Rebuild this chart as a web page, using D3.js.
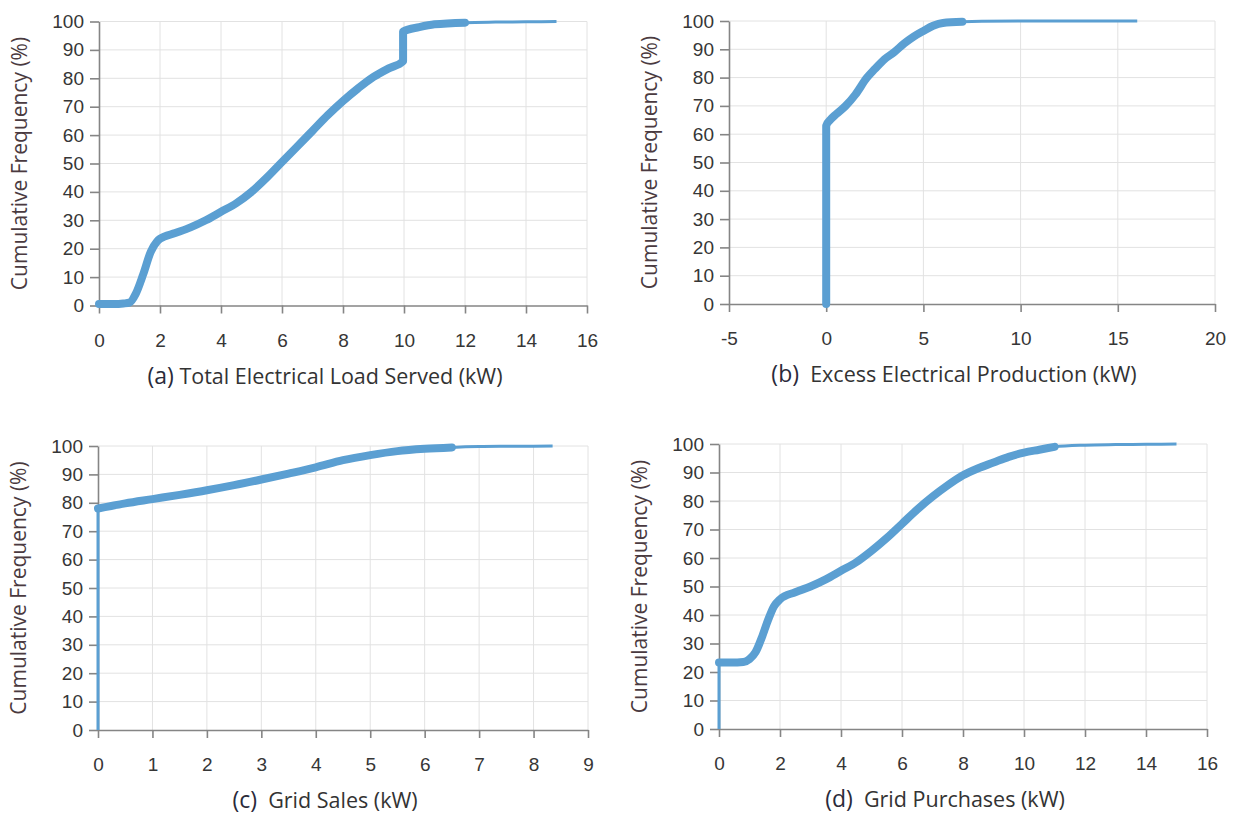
<!DOCTYPE html>
<html>
<head>
<meta charset="utf-8">
<script src="https://cdn.jsdelivr.net/npm/d3@7"></script>
<style>
  body { margin: 0; background: #fff; }
  svg { display: block; font-family: "Open Sans", "Noto Sans", sans-serif; }
  .grid line { stroke: #e2e2e2; stroke-width: 1; }
  .axis path, .axis line { stroke: #858585; stroke-width: 1.6; }
  .axis text { fill: #363636; font-size: 19px; }
</style>
</head>
<body>
<svg id="chart" width="1235" height="816"></svg>
<script>
// cumulative frequency curves (kW, %)
const loadX = [0, 0.5, 0.8, 1.0, 1.2, 1.45, 1.7, 1.9, 2.0, 2.5, 3.0, 3.5, 4.0, 4.5, 5.0, 5.5, 6.0, 6.5, 7.0, 7.5, 8.0, 8.5, 9.0, 9.5, 9.97, 9.97, 10.5, 11.0, 12.0, 13.0, 14.0, 15.0];
const loadY = [0.5, 0.5, 0.7, 1.0, 4, 11, 19, 22.5, 23.5, 25.5, 27.5, 30, 33, 36, 40, 45, 50.5, 56, 61.5, 67, 72, 76.5, 80.5, 83.5, 86, 96.5, 98, 99, 99.6, 99.8, 99.9, 100];

const excessX = [0, 0, 0.2, 0.5, 1.0, 1.5, 2.1, 2.5, 3.0, 3.5, 4.0, 4.5, 5.0, 5.5, 6.0, 7.0, 8.0, 10, 12, 14, 16];
const excessY = [0, 63, 65, 67, 70, 74, 80, 83, 86.5, 89, 92, 94.5, 96.5, 98.3, 99.3, 99.7, 99.9, 100, 100, 100, 100];

const salesX = [0, 0, 0.5, 1, 1.5, 2, 2.5, 3, 3.5, 4, 4.5, 5, 5.5, 6, 6.5, 7, 7.5, 8, 8.35];
const salesY = [0, 78, 79.8, 81.3, 82.8, 84.4, 86.2, 88.2, 90.3, 92.5, 95, 96.8, 98.2, 99, 99.5, 99.8, 99.9, 99.95, 100];

const purchX = [0, 0, 0.4, 0.8, 1.0, 1.2, 1.4, 1.6, 1.8, 2.0, 2.5, 3.0, 3.5, 4.0, 4.5, 5.0, 5.5, 6.0, 6.5, 7.0, 7.5, 8.0, 8.5, 9.0, 9.5, 10, 10.5, 11, 12, 13, 14, 15];
const purchY = [0, 23.3, 23.3, 23.5, 24.5, 27, 32, 38, 43, 45.5, 48, 50, 52.5, 55.5, 58.5, 62.5, 67, 72, 77, 81.5, 85.5, 89, 91.5, 93.5, 95.5, 97, 98, 99, 99.6, 99.8, 99.9, 100];

// tick labels
const yTicks = [0, 10, 20, 30, 40, 50, 60, 70, 80, 90, 100];
const loadTicks = [0, 2, 4, 6, 8, 10, 12, 14, 16];
const excessTicks = [-5, 0, 5, 10, 15, 20];
const salesTicks = [0, 1, 2, 3, 4, 5, 6, 7, 8, 9];
const purchTicks = [0, 2, 4, 6, 8, 10, 12, 14, 16];

// captions
const letters = ["(a)", "(b)", "(c)", "(d)"];
const captions = [" Total Electrical Load Served (kW)", "  Excess Electrical Production (kW)", "  Grid Sales (kW)", "  Grid Purchases (kW)"];
const yTitle = "Cumulative Frequency (%)";

const blue = "#5b9fd2";

// layout of each panel + which part of the curve is drawn heavy
const panels = [
  { xs: loadX,   ys: loadY,   ticks: loadTicks,   left: 99,  right: 587,  top: 21.5, bottom: 305.5, thickFrom: 0, thickTo: 12 },
  { xs: excessX, ys: excessY, ticks: excessTicks, left: 729, right: 1215, top: 21,   bottom: 304,   thickFrom: 0, thickTo: 7 },
  { xs: salesX,  ys: salesY,  ticks: salesTicks,  left: 98,  right: 588,  top: 446,  bottom: 730,   thickFrom: 1, thickTo: 6.5 },
  { xs: purchX,  ys: purchY,  ticks: purchTicks,  left: 719, right: 1207, top: 444,  bottom: 729,   thickFrom: 1, thickTo: 11.5 }
];

const svg = d3.select("#chart");

panels.forEach(function(p, k) {
  const x = d3.scaleLinear().domain(d3.extent(p.ticks)).range([p.left, p.right]);
  const y = d3.scaleLinear().domain([0, 100]).range([p.bottom, p.top]);
  const g = svg.append("g");

  // grid
  const grid = g.append("g").attr("class", "grid");
  grid.selectAll(".gx").data(p.ticks.slice(1)).enter().append("line")
    .attr("x1", d => x(d)).attr("x2", d => x(d))
    .attr("y1", p.top).attr("y2", p.bottom);
  grid.selectAll(".gy").data(yTicks.slice(1)).enter().append("line")
    .attr("x1", p.left).attr("x2", p.right)
    .attr("y1", d => y(d)).attr("y2", d => y(d));

  // axes
  g.append("g").attr("class", "axis")
    .attr("transform", "translate(0," + p.bottom + ")")
    .call(d3.axisBottom(x).tickValues(p.ticks).tickFormat(d => String(d)).tickSize(8).tickSizeOuter(0).tickPadding(20))
    .call(a => a.selectAll("text").attr("font-family", null).attr("font-size", null));
  g.append("g").attr("class", "axis")
    .attr("transform", "translate(" + p.left + ",0)")
    .call(d3.axisLeft(y).tickValues(yTicks).tickSize(9).tickSizeOuter(0).tickPadding(6))
    .call(a => a.selectAll("text").attr("font-family", null).attr("font-size", null));

  // curve: vertical steps get a hair of x so monotoneX keeps them straight
  const pts = p.xs.map((v, i) => [v, p.ys[i]]);
  pts.forEach((d, i) => { if (i > 0 && d[0] <= pts[i - 1][0]) d[0] = pts[i - 1][0] + 1e-4; });
  const line = d3.line().x(d => x(d[0])).y(d => y(d[1])).curve(d3.curveMonotoneX);
  g.append("path").attr("d", line(pts))
    .attr("fill", "none").attr("stroke", blue).attr("stroke-width", 3)
    .attr("stroke-linejoin", "round");
  const heavy = pts.filter((d, i) => i >= p.thickFrom && d[0] <= p.thickTo);
  g.append("path").attr("d", line(heavy))
    .attr("fill", "none").attr("stroke", blue).attr("stroke-width", 8)
    .attr("stroke-linejoin", "round").attr("stroke-linecap", "round");

  // titles
  g.append("text")
    .attr("transform", "translate(" + (p.left - 72) + "," + ((p.top + p.bottom) / 2) + ") rotate(-90)")
    .attr("text-anchor", "middle").attr("fill", "#4a3a40").attr("font-size", 21)
    .text(yTitle);
  const cap = g.append("text")
    .attr("x", (p.left - 36 + p.right) / 2).attr("y", p.bottom + 78)
    .attr("text-anchor", "middle").attr("fill", "#333").attr("font-size", 21.5)
    .attr("xml:space", "preserve");
  cap.append("tspan").attr("font-size", 23).attr("fill", "#2a2a3a").text(letters[k]);
  cap.append("tspan").text(captions[k]);
});
</script>
</body>
</html>
